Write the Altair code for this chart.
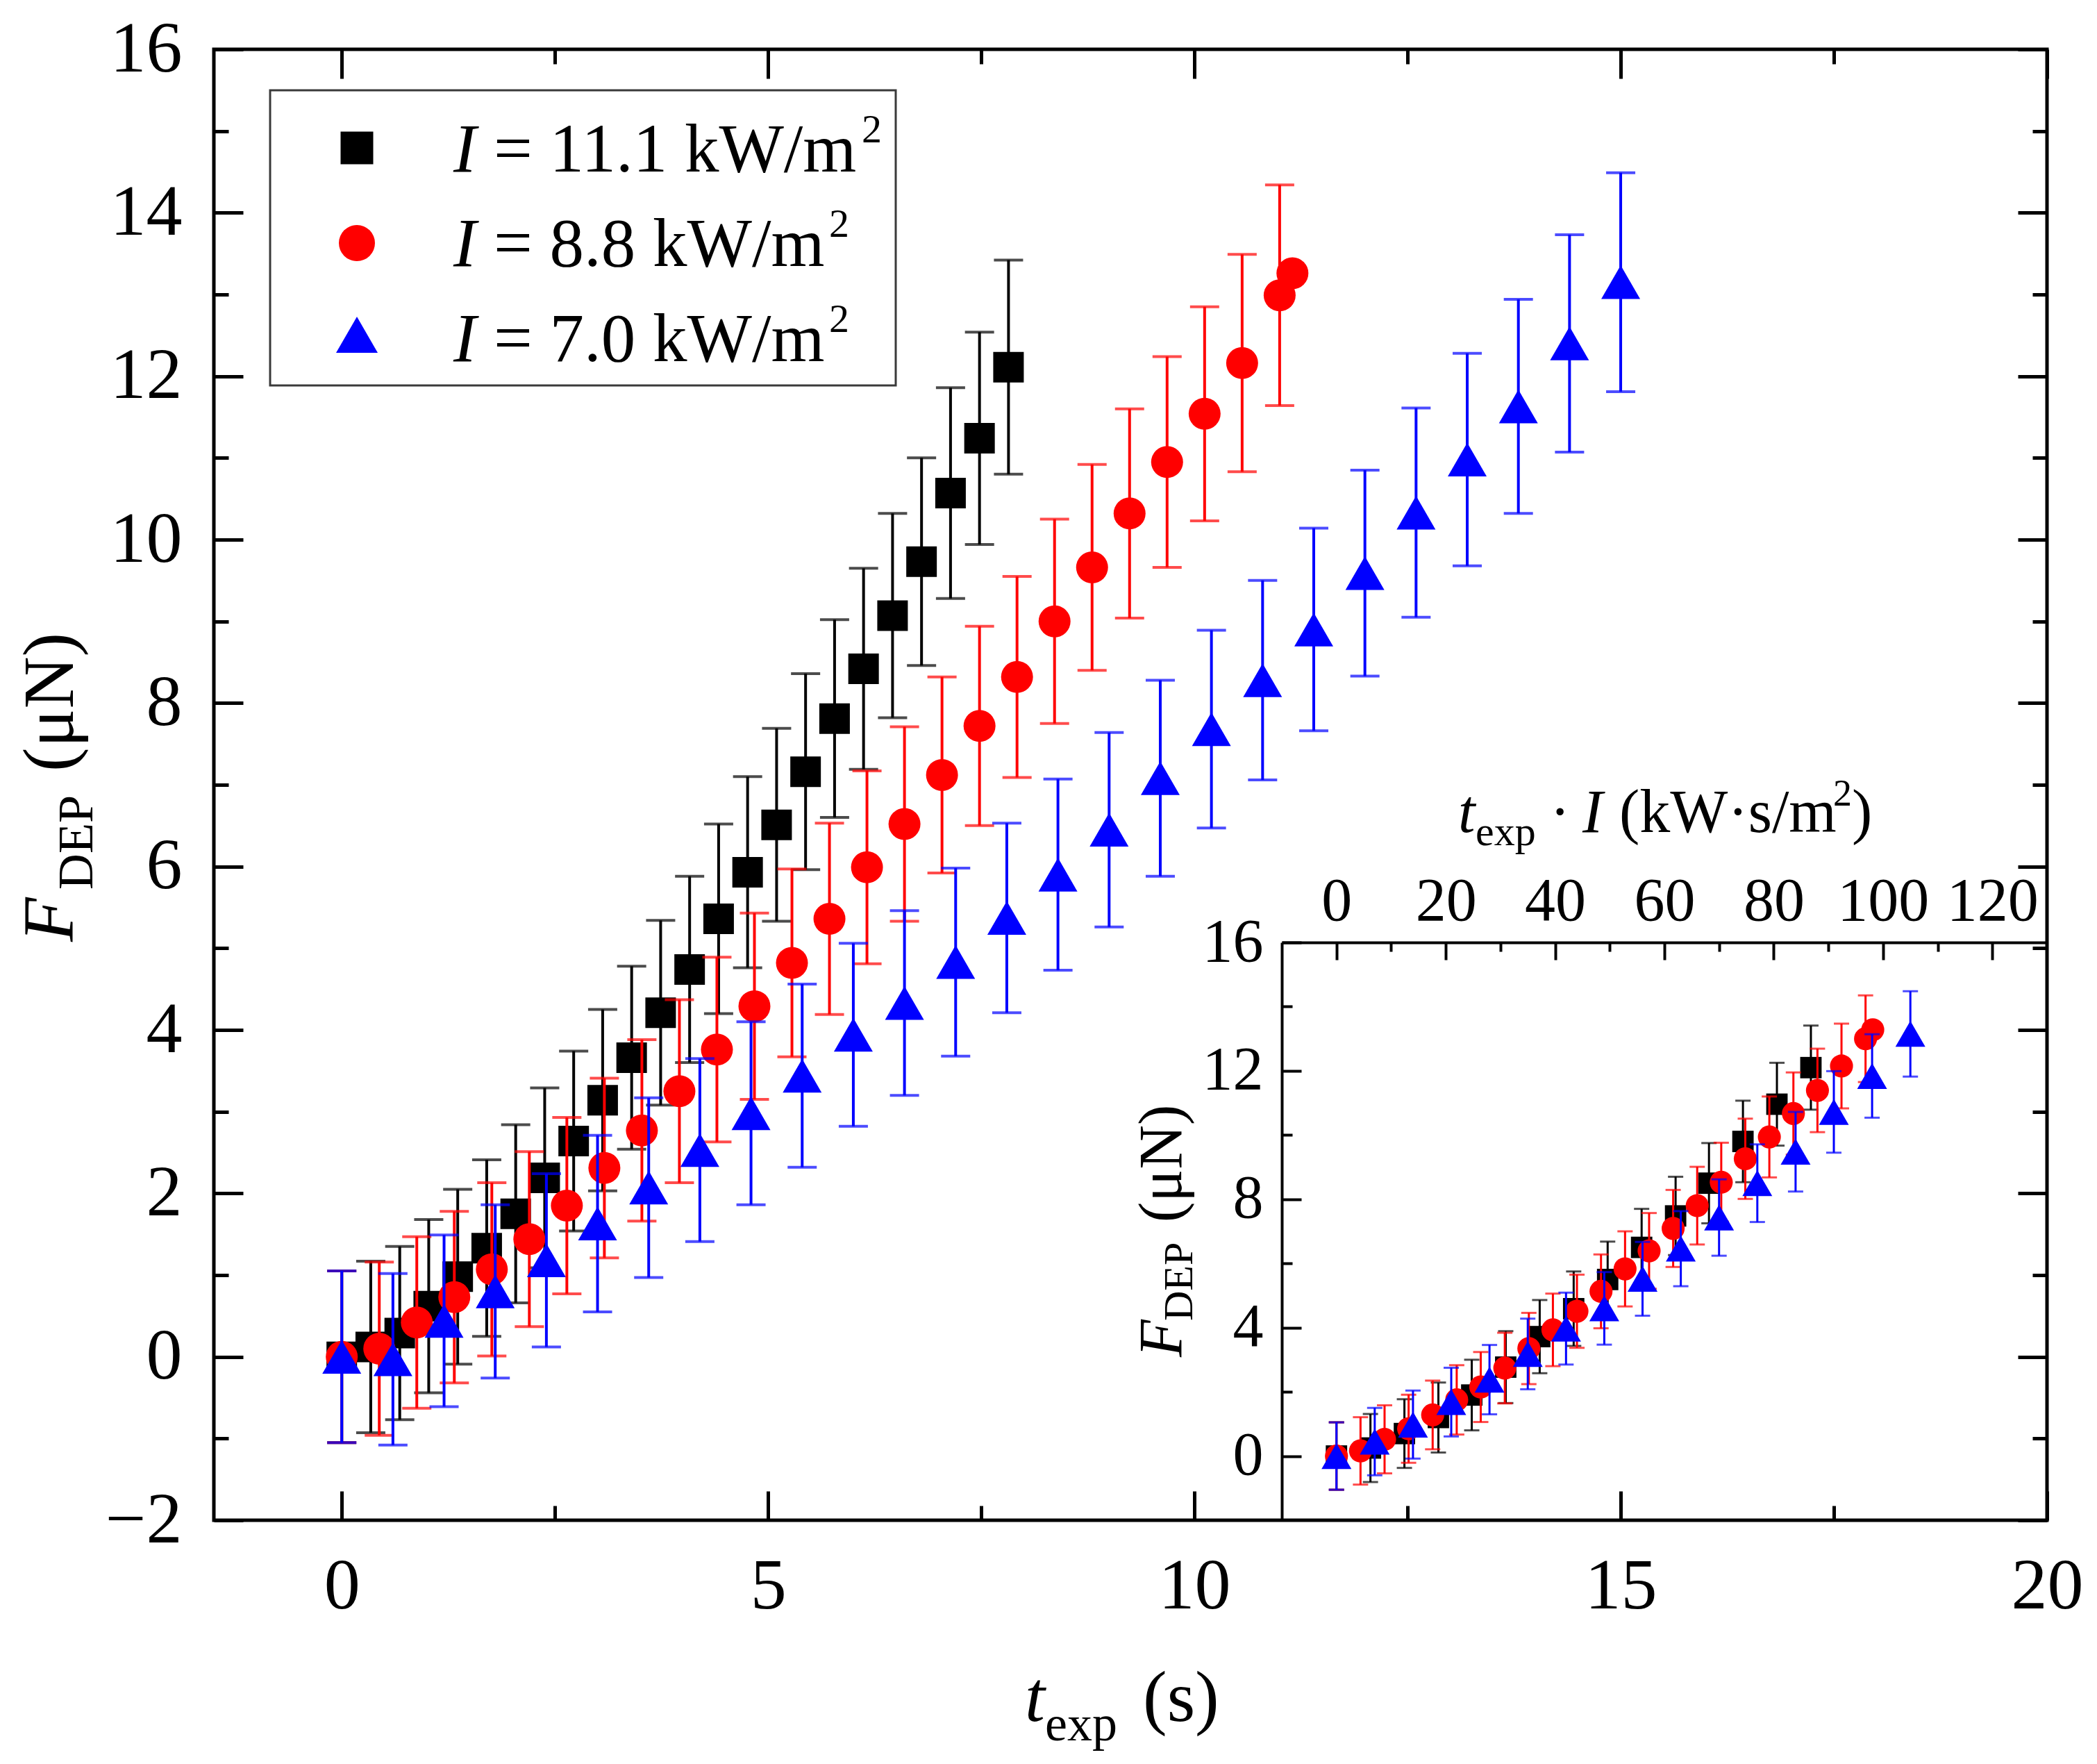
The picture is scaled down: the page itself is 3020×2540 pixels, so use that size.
import altair as alt
import pandas as pd

# ---------------- data ----------------
# main panel
T_BLACK = [0.00, 0.34, 0.68, 1.02, 1.36, 1.70, 2.04, 2.38, 2.72, 3.06, 3.40, 3.74,
           4.08, 4.42, 4.76, 5.10, 5.44, 5.78, 6.12, 6.46, 6.80, 7.14, 7.48, 7.82]
F_BLACK = [0.00, 0.12, 0.29, 0.62, 0.98, 1.33, 1.75, 2.19, 2.64, 3.14, 3.66, 4.21,
           4.74, 5.36, 5.93, 6.51, 7.16, 7.81, 8.42, 9.07, 9.73, 10.57, 11.24, 12.11]
E_BLACK = [1.05, 1.05, 1.06, 1.06, 1.07, 1.08, 1.09, 1.10, 1.10, 1.11, 1.12, 1.13,
           1.14, 1.16, 1.17, 1.18, 1.20, 1.21, 1.23, 1.25, 1.27, 1.29, 1.30, 1.31]

T_RED = [0.00, 0.44, 0.88, 1.32, 1.76, 2.20, 2.64, 3.08, 3.52, 3.96, 4.40, 4.84, 5.28,
         5.72, 6.16, 6.60, 7.04, 7.48, 7.92, 8.36, 8.80, 9.24, 9.68, 10.12, 10.56, 11.00, 11.15]
F_RED = [0.00, 0.10, 0.42, 0.73, 1.07, 1.44, 1.85, 2.31, 2.77, 3.25, 3.76, 4.29, 4.82,
         5.36, 5.99, 6.52, 7.12, 7.72, 8.32, 9.00, 9.66, 10.32, 10.95, 11.54, 12.16, 12.99, 13.26]
E_RED = [1.05, 1.06, 1.05, 1.05, 1.06, 1.07, 1.08, 1.10, 1.11, 1.12, 1.13, 1.14, 1.15,
         1.17, 1.18, 1.19, 1.20, 1.22, 1.23, 1.25, 1.26, 1.28, 1.29, 1.31, 1.33, 1.35, None]

T_BLUE = [0.0, 0.6, 1.2, 1.8, 2.4, 3.0, 3.6, 4.2, 4.8, 5.4, 6.0, 6.6, 7.2, 7.8, 8.4,
          9.0, 9.6, 10.2, 10.8, 11.4, 12.0, 12.6, 13.2, 13.8, 14.4, 15.0]
F_BLUE = [0.00, -0.03, 0.44, 0.80, 1.18, 1.63, 2.07, 2.53, 2.98, 3.44, 3.94, 4.33, 4.83,
          5.37, 5.90, 6.45, 7.08, 7.68, 8.28, 8.90, 9.59, 10.33, 10.98, 11.63, 12.40, 13.15]
E_BLUE = [1.05, 1.05, 1.05, 1.06, 1.06, 1.08, 1.10, 1.12, 1.12, 1.12, 1.12, 1.13, 1.15,
          1.16, 1.17, 1.19, 1.20, 1.21, 1.22, 1.24, 1.26, 1.28, 1.30, 1.31, 1.33, 1.34]

# inset panel (sampled differently from the main panel)
T_BLACK_INSET = [0.00, 0.56, 1.12, 1.68, 2.23, 2.79, 3.35, 3.91, 4.47, 5.03, 5.59, 6.14,
                 6.70, 7.26, 7.82]
F_BLACK_INSET = [0.00, 0.25, 0.70, 1.20, 1.90, 2.77, 3.72, 4.59, 5.50, 6.50, 7.48, 8.50,
                 9.80, 10.96, 12.10]
E_BLACK_INSET = [1.05, 1.06, 1.07, 1.09, 1.10, 1.12, 1.14, 1.16, 1.18, 1.20, 1.22, 1.25,
                 1.27, 1.29, 1.31]

T_RED_INSET = [0.0, 0.5, 1.0, 1.5, 2.0, 2.5, 3.0, 3.5, 4.0, 4.5, 5.0, 5.5, 6.0, 6.5, 7.0,
               7.5, 8.0, 8.5, 9.0, 9.5, 10.0, 10.5, 11.0, 11.15]
F_RED_INSET = [0.00, 0.16, 0.52, 0.85, 1.28, 1.75, 2.15, 2.74, 3.35, 3.93, 4.51, 5.13, 5.83,
               6.39, 7.09, 7.80, 8.53, 9.26, 9.94, 10.67, 11.39, 12.15, 13.00, 13.28]
E_RED_INSET = [1.05, 1.05, 1.06, 1.06, 1.07, 1.08, 1.09, 1.10, 1.11, 1.13, 1.14, 1.15, 1.17,
               1.18, 1.20, 1.21, 1.23, 1.25, 1.26, 1.28, 1.30, 1.32, 1.35, None]

T_BLUE_INSET = [0, 1, 2, 3, 4, 5, 6, 7, 8, 9, 10, 11, 12, 13, 14, 15]
F_BLUE_INSET = [0.00, 0.45, 0.98, 1.68, 2.38, 3.18, 3.97, 4.60, 5.52, 6.46, 7.43, 8.50,
                9.48, 10.72, 11.84, 13.15]
E_BLUE_INSET = [1.05, 1.05, 1.06, 1.07, 1.08, 1.10, 1.12, 1.13, 1.15, 1.17, 1.19, 1.21,
                1.24, 1.27, 1.30, 1.33]

I_VALUES = {"black": 11.1, "red": 8.8, "blue": 7.0}
LEGEND_TEXT = ["= 11.1 kW/m", "= 8.8 kW/m", "= 7.0 kW/m"]

X_TICKS = [0, 5, 10, 15, 20]
X_MINOR = [2.5, 7.5, 12.5, 17.5]
Y_TICKS = [-2, 0, 2, 4, 6, 8, 10, 12, 14, 16]
Y_MINOR = [-1, 1, 3, 5, 7, 9, 11, 13, 15]
IX_TICKS = [0, 20, 40, 60, 80, 100, 120]
IX_MINOR = [10, 30, 50, 70, 90, 110]
IY_TICKS = [0, 4, 8, 12, 16]
IY_MINOR = [2, 6, 10, 14]


def make_df(name, t, f, e):
    return pd.DataFrame({"series": name, "I": I_VALUES[name], "t": t, "F": f,
                         "err": [float("nan") if v is None else v for v in e]})


main_dfs = {
    "black": make_df("black", T_BLACK, F_BLACK, E_BLACK),
    "red": make_df("red", T_RED, F_RED, E_RED),
    "blue": make_df("blue", T_BLUE, F_BLUE, E_BLUE),
}
inset_dfs = {
    "black": make_df("black", T_BLACK_INSET, F_BLACK_INSET, E_BLACK_INSET),
    "red": make_df("red", T_RED_INSET, F_RED_INSET, E_RED_INSET),
    "blue": make_df("blue", T_BLUE_INSET, F_BLUE_INSET, E_BLUE_INSET),
}

# ---------------- layout / style ----------------
FONT = "Liberation Serif"
PAD_L, PAD_T = 300, 63
ORIGIN_X, ORIGIN_Y = 8 + PAD_L, 8 + PAD_T          # page position of plot origin
W = 2948 - ORIGIN_X
H = 2189 - ORIGIN_Y
IX0 = 1846 - ORIGIN_X                              # inset left edge
IY0 = 1357 - ORIGIN_Y                              # inset top edge
PAD_R = 3020 - 16 - PAD_L - W
PAD_B = 2540 - 16 - PAD_T - H


def PX(x):
    return x - ORIGIN_X


def PY(y):
    return y - ORIGIN_Y


COLORS = {"black": "#000000", "red": "#ff0000", "blue": "#0000ff"}
SHAPES = {"black": "square", "red": "circle", "blue": "triangle-up"}
MAIN_SIZE = {"black": 1936, "red": 2116, "blue": 3136}
INSET_SIZE = {"black": 950, "red": 1100, "blue": 1850}


def mx():
    return alt.Scale(domain=[-1.5, 20], nice=False, zero=False)


def my():
    return alt.Scale(domain=[-2, 16], nice=False, zero=False)


def ix():
    return alt.Scale(domain=[-10, 130], range=[IX0, W], nice=False, zero=False)


def iy():
    return alt.Scale(domain=[-2, 16], range=[H, IY0], nice=False, zero=False)


layers = []


def series_layers(df, xfield, xscale, yscale, color, shape, size, cap, lw, inset):
    base = alt.Chart(df)
    if inset:
        base = base.transform_calculate(tI="datum.t * datum.I")
    eb = base.transform_filter("isValid(datum.err) && isFinite(datum.err)").transform_calculate(
        lo="datum.F - datum.err", hi="datum.F + datum.err")
    out = [eb.mark_rule(color=color, strokeWidth=lw).encode(
        x=alt.X(xfield, type="quantitative", scale=xscale(), axis=None),
        y=alt.Y("lo:Q", scale=yscale(), axis=None), y2="hi:Q")]
    for col in ["lo", "hi"]:
        out.append(eb.mark_tick(color=color, orient="horizontal", size=cap, thickness=lw).encode(
            x=alt.X(xfield, type="quantitative", scale=xscale(), axis=None),
            y=alt.Y(col, type="quantitative", scale=yscale(), axis=None)))
    out.append(base.mark_point(shape=shape, size=size, filled=True, opacity=1, color=color,
                               strokeWidth=0).encode(
        x=alt.X(xfield, type="quantitative", scale=xscale(), axis=None),
        y=alt.Y("F:Q", scale=yscale(), axis=None)))
    return out


for name in ["black", "red", "blue"]:
    layers += series_layers(main_dfs[name], "t", mx, my, COLORS[name], SHAPES[name],
                            MAIN_SIZE[name], 42, 4, False)
for name in ["black", "red", "blue"]:
    layers += series_layers(inset_dfs[name], "tI", ix, iy, COLORS[name], SHAPES[name],
                            INSET_SIZE[name], 22, 3, True)

# ---------------- axes (inward ticks built from extra axes) ----------------
DUMMY = pd.DataFrame({"a": [0.0], "b": [0.0]})


def ax(orient, values, labels=False, size=0, width=5, offset=0, fs=104, pad=0,
       domain=False, dwidth=4):
    kw = dict(orient=orient, values=values, grid=False, labels=labels, domain=domain,
              title=None, offset=offset, labelFlush=False, labelOverlap=False,
              labelBound=False)
    if labels:
        kw.update(labelFont=FONT, labelFontSize=fs, labelColor="black", labelPadding=pad)
    if size > 0:
        kw.update(ticks=True, tickSize=size, tickWidth=width, tickColor="black")
    else:
        kw.update(ticks=False, tickSize=0)
    if domain:
        kw.update(domainColor="black", domainWidth=dwidth)
    return alt.Axis(**kw)


def axis_layer(xs, ys, xaxis, yaxis):
    return alt.Chart(DUMMY).mark_point(opacity=0).encode(
        x=alt.X("a:Q", scale=xs(), axis=xaxis),
        y=alt.Y("b:Q", scale=ys(), axis=yaxis))


layers += [
    axis_layer(mx, my, ax("bottom", X_TICKS, labels=True, pad=44),
               ax("left", Y_TICKS, labels=True, pad=46)),
    axis_layer(mx, my, ax("top", X_TICKS, size=42, offset=-H),
               ax("right", Y_TICKS, size=42, offset=-W)),
    axis_layer(mx, my, ax("top", X_MINOR, size=21, offset=-H),
               ax("right", Y_MINOR, size=21, offset=-W)),
    axis_layer(mx, my, ax("bottom", X_TICKS, size=42, offset=-H),
               ax("left", Y_TICKS, size=42, offset=-W)),
    axis_layer(mx, my, ax("bottom", X_MINOR, size=21, offset=-H),
               ax("left", Y_MINOR, size=21, offset=-W)),
    axis_layer(ix, iy, ax("top", IX_TICKS, labels=True, fs=88, pad=15, offset=-IY0,
                          domain=True),
               ax("left", IY_TICKS, labels=True, fs=88, pad=27, offset=-IX0, domain=True)),
    axis_layer(ix, iy, ax("bottom", IX_TICKS, size=25, width=4, offset=-(H - IY0)),
               ax("right", IY_TICKS, size=28, width=4, offset=-(W - IX0))),
    axis_layer(ix, iy, ax("bottom", IX_MINOR, size=13, width=4, offset=-(H - IY0)),
               ax("right", IY_MINOR, size=15, width=4, offset=-(W - IX0))),
]

# ---------------- rich-text titles (page positions) ----------------
ONE = pd.DataFrame({"a": [0]})


def txt(s, x, y, size, italic=False, angle=0):
    kw = dict(text=s, font=FONT, fontSize=size, align="left", baseline="alphabetic",
              color="black")
    if italic:
        kw["fontStyle"] = "italic"
    if angle:
        kw["angle"] = angle
    return alt.Chart(ONE).mark_text(**kw).encode(x=alt.value(PX(x)), y=alt.value(PY(y)))


layers += [
    # main x title
    txt("t", 1476, 2478, 104, italic=True),
    txt("exp", 1505, 2506, 72),
    txt("(s)", 1646, 2478, 104),
    # main y title (reads bottom to top)
    txt("F", 105, 1356, 104, italic=True, angle=270),
    txt("DEP", 133, 1281, 72, angle=270),
    txt("(μN)", 105, 1111, 104, angle=270),
    # inset y title
    txt("F", 1701, 1954, 88, italic=True, angle=270),
    txt("DEP", 1717, 1902, 60, angle=270),
    txt("(μN)", 1701, 1760, 88, angle=270),
    # inset top title
    txt("t", 2100, 1198, 88, italic=True),
    txt("exp", 2125, 1217, 60),
    txt("·", 2232, 1198, 88),
    txt("I", 2279, 1198, 88, italic=True),
    txt("(kW·s/m", 2332, 1198, 88),
    txt("2", 2640, 1160, 54),
    txt(")", 2667, 1198, 88),
]

# ---------------- legend ----------------
layers.append(alt.Chart(ONE).mark_rect(fill="white", stroke="#3a3a3a", strokeWidth=3).encode(
    x=alt.value(PX(389)), x2=alt.value(PX(1290)), y=alt.value(PY(130)), y2=alt.value(PY(555))))
LEG_SIZE = {"black": 2209, "red": 2704, "blue": 3600}
row_base = [247, 383, 520]
row_mark = [213, 350, 482]
sup_x = [1241, 1194, 1194]
for i, name in enumerate(["black", "red", "blue"]):
    layers.append(alt.Chart(ONE).mark_point(shape=SHAPES[name], size=LEG_SIZE[name], filled=True,
                                            opacity=1, color=COLORS[name], strokeWidth=0).encode(
        x=alt.value(PX(514)), y=alt.value(PY(row_mark[i]))))
    layers.append(txt("I", 653, row_base[i], 99, italic=True))
    layers.append(txt(LEGEND_TEXT[i], 711, row_base[i], 99))
    layers.append(txt("2", sup_x[i], row_base[i] - 42, 58))

chart = alt.layer(*layers).resolve_scale(x="independent", y="independent").resolve_axis(
    x="independent", y="independent").properties(
    width=W, height=H,
    autosize=alt.AutoSizeParams(type="none"),
    padding={"left": PAD_L, "top": PAD_T, "right": PAD_R, "bottom": PAD_B},
    background="white",
).configure_view(stroke="black", strokeWidth=5)

chart.save("out.html", embed_options={"renderer": "svg", "actions": False})
